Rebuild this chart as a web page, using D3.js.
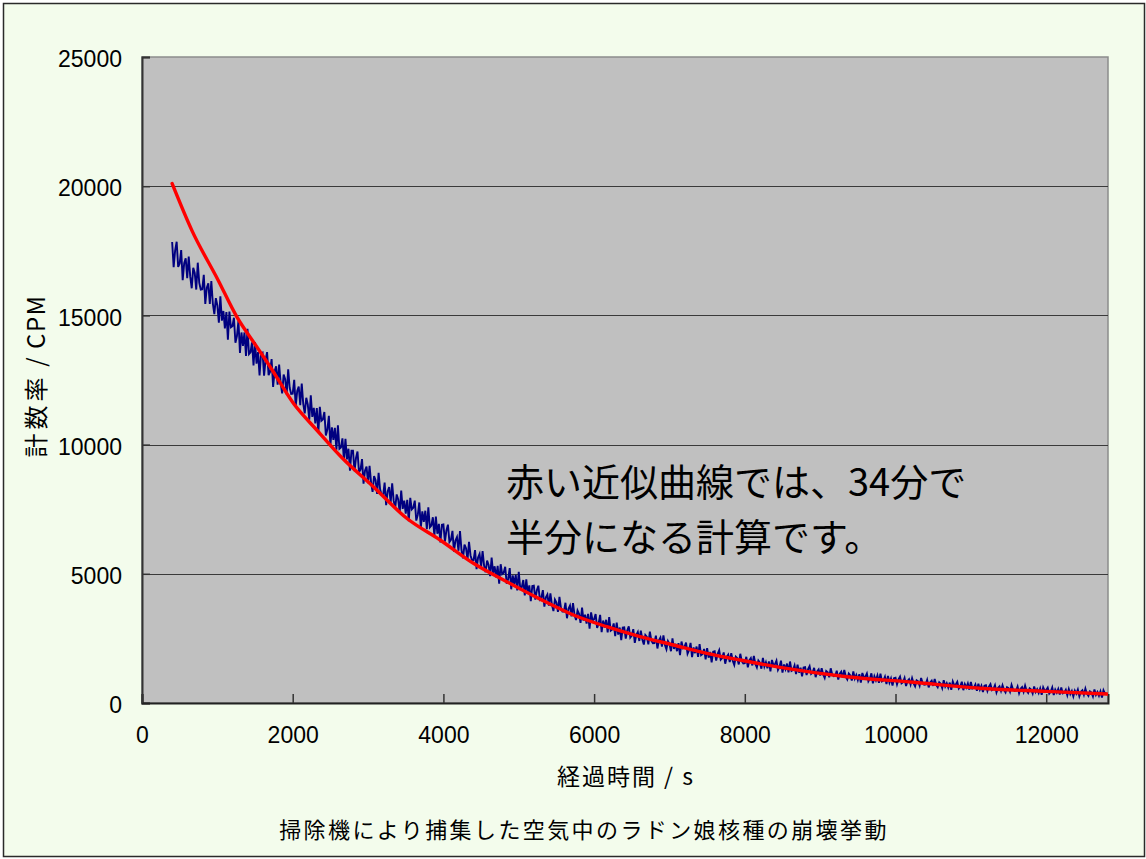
<!DOCTYPE html>
<html>
<head>
<meta charset="utf-8">
<script src="https://cdn.jsdelivr.net/npm/d3@7"></script>
<style>
  html, body { margin: 0; padding: 0; background: #ffffff; }
  svg { display: block; }
</style>
</head>
<body>
<div id="chart"></div>
<script>
// ---------------- DATA ----------------
const chartTitle = "掃除機により捕集した空気中のラドン娘核種の崩壊挙動";
const xAxisTitle = "経過時間 / s";
const yAxisTitleJa = "計数率";
const yAxisTitleUnit = " / CPM";
const noteLines = ["赤い近似曲線では、34分で", "半分になる計算です。"];

const xTicks = [0, 2000, 4000, 6000, 8000, 10000, 12000];
const yTicks = [0, 5000, 10000, 15000, 20000, 25000];
const xMax = 12820;
const yMax = 25000;

// measured count rate (blue), sampled every 20 s starting at 400 s
const measuredStart = 400;
const measuredStep = 20;
const measuredCPM = [
  17840, 16870, 17520, 17850, 16880, 17010, 17530, 16360, 17020, 17210, 16440, 17280, 16510, 16050, 16840, 16640, 16000, 17040, 16260, 16000,
  16010, 16570, 15440, 16070, 16240, 15440, 16330, 15460, 15050, 15670, 15390, 14720, 15740, 14800, 15170, 14500, 15130, 14060, 15150, 14540,
  14580, 14910, 13940, 14200, 14790, 13550, 14340, 13820, 14340, 13430, 14480, 13500, 13570, 13960, 13060, 13970, 13130, 13580, 12680, 13520,
  13560, 12670, 13280, 13580, 12690, 12820, 13310, 12230, 12840, 13030, 12320, 13100, 12390, 11980, 12710, 12530, 11940, 12910, 12200, 11960,
  11970, 12510, 11480, 12080, 12250, 11530, 12360, 11580, 11210, 11810, 11560, 10960, 11910, 11070, 11420, 10820, 11410, 10450, 11460, 10920,
  10970, 11260, 10350, 10580, 11110, 9960, 10670, 10180, 10650, 9800, 10750, 9840, 9890, 10240, 9390, 10220, 9430, 9840, 8990, 9760,
  9760, 8970, 9480, 9730, 8940, 9030, 9440, 8490, 9000, 9150, 8510, 9180, 8540, 8170, 8780, 8620, 8090, 8910, 8270, 8060,
  8040, 8530, 7660, 8190, 8360, 7750, 8500, 7830, 7540, 8070, 7880, 7370, 8220, 7510, 7830, 7330, 7860, 7040, 7940, 7490,
  7550, 7830, 7060, 7280, 7760, 6780, 7420, 7010, 7440, 6730, 7570, 6800, 6870, 7190, 6470, 7210, 6550, 6930, 6210, 6900,
  6910, 6250, 6680, 6900, 6230, 6310, 6660, 5860, 6290, 6420, 5890, 6650, 5920, 5600, 6130, 5990, 5540, 6240, 5710, 5520,
  5520, 5920, 5180, 5630, 5770, 5260, 5880, 5320, 5060, 5510, 5340, 4910, 5630, 5020, 5290, 4860, 5310, 4620, 5370, 4990,
  5040, 5270, 4620, 4810, 5220, 4400, 4940, 4600, 4960, 4360, 5080, 4430, 4480, 4760, 4160, 4790, 4230, 4550, 3940, 4530,
  4540, 4000, 4360, 4540, 4010, 4080, 4370, 3730, 4090, 4200, 3770, 4240, 3810, 3560, 4000, 3890, 3530, 4110, 3680, 3540,
  3540, 3880, 3280, 3650, 3770, 3350, 3870, 3410, 3210, 3580, 3450, 3100, 3690, 3190, 3420, 3070, 3450, 2880, 3510, 3190,
  3240, 3440, 2910, 3070, 3410, 2740, 3190, 2920, 3220, 2730, 3320, 2800, 2850, 3080, 2590, 3110, 2650, 2920, 2430, 2920,
  2930, 2490, 2810, 2970, 2530, 2610, 2860, 2330, 2640, 2750, 2400, 2800, 2460, 2260, 2630, 2560, 2270, 2760, 2410, 2310,
  2320, 2605, 2110, 2425, 2530, 2185, 2620, 2245, 2080, 2395, 2290, 2005, 2500, 2095, 2290, 2005, 2320, 1855, 2380, 2125,
  2170, 2337, 1904, 2041, 2328, 1775, 2152, 1929, 2186, 1783, 2280, 1847, 1894, 2091, 1688, 2125, 1752, 1979, 1576, 1983,
  2000, 1639, 1902, 2041, 1679, 1743, 1956, 1520, 1783, 1872, 1585, 1924, 1637, 1476, 1789, 1728, 1491, 1905, 1618, 1532,
  1545, 1787, 1378, 1645, 1736, 1453, 1819, 1511, 1377, 1644, 1560, 1327, 1743, 1410, 1576, 1343, 1609, 1226, 1667, 1459,
  1500, 1641, 1281, 1397, 1637, 1178, 1493, 1309, 1524, 1190, 1605, 1246, 1286, 1452, 1117, 1483, 1173, 1364, 1029, 1370,
  1386, 1085, 1308, 1427, 1125, 1181, 1362, 998, 1221, 1298, 1059, 1346, 1107, 974, 1239, 1190, 993, 1343, 1104, 1034,
  1047, 1251, 908, 1133, 1210, 973, 1281, 1023, 911, 1136, 1066, 871, 1221, 942, 1082, 887, 1111, 790, 1161, 987,
  1022, 1143, 843, 943, 1147, 764, 1031, 879, 1062, 784, 1135, 836, 872, 1014, 735, 1045, 787, 950, 671, 960,
  978, 721, 915, 1018, 761, 810, 968, 657, 850, 917, 715, 962, 759, 646, 876, 835, 668, 969, 767, 708,
  721, 896, 604, 797, 864, 661, 927, 706, 611, 804, 746, 579, 880, 641, 763, 596, 789, 514, 834, 685,
  716, 820, 564, 649, 825, 497, 727, 596, 754, 516, 818, 561, 593, 715, 477, 742, 522, 662, 424, 671,
  691, 464, 636, 729, 502, 547, 687, 412, 585, 646, 467, 687, 508, 409, 614, 578, 431, 700, 521, 469,
  482, 639, 380, 553, 614, 435, 672, 477, 394, 567, 516, 369, 638, 427, 536, 389, 562, 319, 604, 473,
  502, 595, 368, 445, 602, 311, 516, 401, 542, 331, 600, 373, 402, 511, 300, 537, 342, 467, 256, 477,
  362, 520, 261, 435, 496, 318, 555, 361, 278, 452, 401, 255, 524, 314, 423, 277, 450, 208, 493, 363,
  390
];

// fitted curve (red)
const fitTime = [400, 660, 1009, 1257, 1522, 1700, 2009, 2319, 2651, 3070, 3513, 3956, 4398, 4841,
                 5284, 5726, 6169, 6611, 7053, 7496, 7939, 8469, 9354, 10239, 11124, 12000, 12806];
const fitCPM  = [20100, 18300, 16370, 14950, 13790, 13015, 11600, 10565, 9500, 8370, 7148, 6308, 5406, 4694,
                 4020, 3406, 2953, 2566, 2245, 1923, 1664, 1380, 1018, 801, 569, 450, 348];

// ---------------- CHART ----------------
const W = 1146, H = 859;
const plot = { left: 142, top: 57, right: 1108, bottom: 703 };

const svg = d3.select("#chart").append("svg")
  .attr("width", W).attr("height", H);

svg.append("rect").attr("x", 0).attr("y", 0).attr("width", W).attr("height", H).attr("fill", "#ffffff");
svg.append("rect")
  .attr("x", 3.5).attr("y", 3.5).attr("width", W - 5).attr("height", H - 6)
  .attr("fill", "#f3fcec").attr("stroke", "#2a2a2a").attr("stroke-width", 1.5);

const x = d3.scaleLinear().domain([0, xMax]).range([plot.left, plot.right]);
const y = d3.scaleLinear().domain([0, yMax]).range([plot.bottom, plot.top]);

// plot background
svg.append("rect")
  .attr("x", plot.left).attr("y", plot.top)
  .attr("width", plot.right - plot.left).attr("height", plot.bottom - plot.top)
  .attr("fill", "#c0c0c0")
  .attr("stroke", "#8c8c8c").attr("stroke-width", 1.5);

// gridlines
svg.append("g").selectAll("line")
  .data(yTicks.filter(d => d > 0 && d < yMax))
  .join("line")
  .attr("x1", plot.left).attr("x2", plot.right)
  .attr("y1", d => Math.round(y(d)) + 0.5).attr("y2", d => Math.round(y(d)) + 0.5)
  .attr("stroke", "#3a3a3a").attr("stroke-width", 1);

const font = "'Liberation Sans', Arial, 'Noto Sans CJK JP', sans-serif";
const cjk = "'Noto Sans CJK JP', 'Liberation Sans', sans-serif";

// y axis
const yAxis = svg.append("g")
  .attr("transform", `translate(${plot.left},0)`)
  .call(d3.axisLeft(y).tickValues(yTicks).tickSize(-8).tickPadding(20).tickFormat(d3.format("d")));
yAxis.select(".domain").attr("stroke", "#333").attr("stroke-width", 2);
yAxis.selectAll(".tick line").attr("stroke", "#333").attr("stroke-width", 1.5);
yAxis.selectAll(".tick text")
  .attr("font-family", font).attr("font-size", 23).attr("fill", "#000")
  .attr("dy", "0.42em");

// x axis
const xAxis = svg.append("g")
  .attr("transform", `translate(0,${plot.bottom})`)
  .call(d3.axisBottom(x).tickValues(xTicks).tickSize(-9).tickPadding(24).tickFormat(d3.format("d")));
xAxis.select(".domain").attr("stroke", "#222").attr("stroke-width", 2);
xAxis.selectAll(".tick line").attr("stroke", "#333").attr("stroke-width", 1.5);
xAxis.selectAll(".tick text")
  .attr("font-family", font).attr("font-size", 23).attr("fill", "#000");

// clip
svg.append("clipPath").attr("id", "clip")
  .append("rect").attr("x", plot.left).attr("y", plot.top)
  .attr("width", plot.right - plot.left).attr("height", plot.bottom - plot.top);

// measured line
const measured = measuredCPM.map((v, i) => ({ t: measuredStart + i * measuredStep, v }));
svg.append("path")
  .datum(measured)
  .attr("clip-path", "url(#clip)")
  .attr("fill", "none")
  .attr("stroke", "#000080")
  .attr("stroke-width", 1.9)
  .attr("stroke-linejoin", "miter")
  .attr("d", d3.line().x(d => x(d.t)).y(d => y(d.v)));

// fit line
const fit = fitTime.map((t, i) => ({ t, v: fitCPM[i] }));
svg.append("path")
  .datum(fit)
  .attr("clip-path", "url(#clip)")
  .attr("fill", "none")
  .attr("stroke", "#ff0000")
  .attr("stroke-width", 3.4)
  .attr("stroke-linejoin", "round")
  .attr("stroke-linecap", "round")
  .attr("d", d3.line().x(d => x(d.t)).y(d => y(d.v)).curve(d3.curveMonotoneX));

// note text
const note = svg.append("text")
  .attr("font-family", cjk).attr("font-size", 38).attr("fill", "#000");
noteLines.forEach((line, i) => {
  note.append("tspan").attr("x", 506).attr("y", 496 + i * 55).text(line);
});

// axis titles
svg.append("text")
  .attr("x", 626).attr("y", 785)
  .attr("text-anchor", "middle")
  .attr("font-family", cjk).attr("font-size", 23).attr("letter-spacing", 2)
  .attr("fill", "#000")
  .text(xAxisTitle);

const yTitle = svg.append("text")
  .attr("transform", `translate(45,376) rotate(-90)`)
  .attr("text-anchor", "middle")
  .attr("font-family", cjk).attr("font-size", 24)
  .attr("fill", "#000");
yTitle.append("tspan").attr("letter-spacing", 4).text(yAxisTitleJa);
yTitle.append("tspan").attr("letter-spacing", 1.5).text(yAxisTitleUnit);

svg.append("text")
  .attr("x", 584).attr("y", 838)
  .attr("text-anchor", "middle")
  .attr("font-family", cjk).attr("font-size", 22).attr("letter-spacing", 2.4)
  .attr("fill", "#000")
  .text(chartTitle);
</script>
</body>
</html>
